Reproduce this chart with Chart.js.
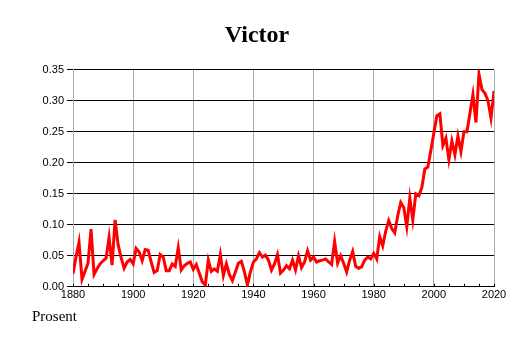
<!DOCTYPE html>
<html>
<head>
<meta charset="utf-8">
<script src="https://cdn.jsdelivr.net/npm/chart.js@4"></script>
<style>
  html, body { margin: 0; padding: 0; background: #fff; }
  #wrap { width: 514px; height: 343px; position: relative; }
  #unit {
    position: absolute; left: 32px; top: 309px;
    font: 15px/1 'Liberation Serif', serif; color: #000;
  }
</style>
</head>
<body>
<div id="wrap">
  <canvas id="chart" width="514" height="343"></canvas>
  <div id="unit"></div>
</div>
<script>
  const chartTitle = 'Victor';
  const unitLabel = 'Prosent';
  const startYear = 1880;
  const shares = [
    0.021, 0.048, 0.072, 0.012, 0.025, 0.038, 0.093, 0.020, 0.029, 0.037,
    0.042, 0.046, 0.080, 0.035, 0.108, 0.068, 0.047, 0.030, 0.040, 0.044,
    0.037, 0.062, 0.056, 0.042, 0.060, 0.059, 0.040, 0.023, 0.026, 0.052,
    0.048, 0.026, 0.026, 0.037, 0.033, 0.063, 0.027, 0.034, 0.038, 0.040,
    0.028, 0.036, 0.022, 0.008, 0.003, 0.043, 0.025, 0.029, 0.025, 0.052,
    0.018, 0.037, 0.020, 0.010, 0.024, 0.038, 0.041, 0.024, 0.003, 0.024,
    0.040, 0.045, 0.055, 0.048, 0.051, 0.043, 0.027, 0.037, 0.052, 0.022,
    0.027, 0.034, 0.029, 0.043, 0.027, 0.050, 0.031, 0.040, 0.058, 0.043,
    0.048, 0.040, 0.042, 0.043, 0.045, 0.040, 0.036, 0.073, 0.038, 0.050,
    0.038, 0.024, 0.043, 0.057, 0.033, 0.030, 0.032, 0.043, 0.048, 0.045,
    0.054, 0.045, 0.081, 0.066, 0.090, 0.107, 0.094, 0.087, 0.115, 0.136,
    0.128, 0.097, 0.143, 0.108, 0.150, 0.147, 0.160, 0.190, 0.193, 0.220,
    0.248, 0.276, 0.279, 0.228, 0.240, 0.205, 0.235, 0.213, 0.243, 0.218,
    0.250, 0.250, 0.280, 0.310, 0.265, 0.343, 0.318, 0.312, 0.300, 0.272,
    0.316
  ];
  const years = shares.map((_, i) => startYear + i);
  const yTicks = [0, 0.05, 0.10, 0.15, 0.20, 0.25, 0.30, 0.35];
  const xTicks = [1880, 1900, 1920, 1940, 1960, 1980, 2000, 2020];
  const minorStep = 5;

  document.getElementById('unit').textContent = unitLabel;

  // small tick marks every 5 years, pointing up from the bottom axis
  const minorTicks = {
    id: 'minorTicks',
    afterDraw(chart) {
      const x = chart.scales.x;
      const ctx = chart.ctx;
      const bottom = chart.chartArea.bottom;
      ctx.save();
      ctx.strokeStyle = '#000';
      ctx.lineWidth = 1;
      for (let yr = xTicks[0]; yr <= xTicks[xTicks.length - 1]; yr += minorStep) {
        const px = Math.round(x.getPixelForValue(yr)) + 0.5;
        ctx.beginPath();
        ctx.moveTo(px, bottom);
        ctx.lineTo(px, bottom - 3);
        ctx.stroke();
      }
      ctx.restore();
    }
  };

  new Chart(document.getElementById('chart'), {
    type: 'line',
    data: {
      datasets: [{
        data: years.map((yr, i) => ({ x: yr, y: shares[i] })),
        borderColor: '#ff0000',
        borderWidth: 3,
        pointRadius: 0,
        tension: 0,
        fill: false
      }]
    },
    options: {
      responsive: false,
      animation: false,
      layout: { padding: { left: 20, right: 20, top: 0, bottom: 39 } },
      plugins: {
        legend: { display: false },
        tooltip: { enabled: false },
        title: {
          display: true,
          text: chartTitle,
          color: '#000',
          font: { family: 'Liberation Serif', size: 24, weight: 'bold' },
          padding: { top: 21, bottom: 20 }
        }
      },
      scales: {
        x: {
          type: 'linear',
          min: xTicks[0],
          max: xTicks[xTicks.length - 1],
          afterBuildTicks: s => { s.ticks = xTicks.map(v => ({ value: v })); },
          ticks: {
            color: '#000',
            font: { family: 'Liberation Sans', size: 11 },
            padding: 2,
            maxRotation: 0,
            callback: v => String(v)
          },
          grid: { color: '#aaa', lineWidth: 1, drawTicks: false },
          border: { color: '#000', width: 1 }
        },
        y: {
          min: 0,
          max: 0.35,
          afterBuildTicks: s => { s.ticks = yTicks.map(v => ({ value: v })); },
          afterFit: s => { s.width = 53; },
          ticks: {
            color: '#000',
            font: { family: 'Liberation Sans', size: 11 },
            padding: 3,
            callback: v => v.toFixed(2)
          },
          grid: { color: '#000', lineWidth: 1, tickLength: 6 },
          border: { color: '#aaa', width: 1 }
        }
      }
    },
    plugins: [minorTicks]
  });
</script>
</body>
</html>
